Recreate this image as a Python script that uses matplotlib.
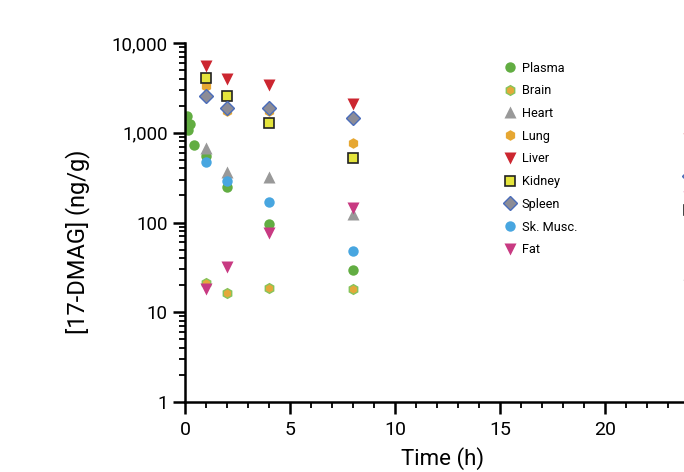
import numpy as np
import matplotlib.pyplot as plt
from matplotlib.ticker import FixedLocator, FuncFormatter, MultipleLocator

plt.rcParams['font.family'] = ['Roboto', 'DejaVu Sans']

# sampling times (h)
t_plasma = [0.08, 0.25, 0.12, 0.42, 1, 2, 4, 8, 24]
t_tissue = [1, 2, 4, 8, 24]

plasma = [1550, 1240, 1065, 736, 550, 250, 97, 29.5, 10]
brain = [21, 16.4, 18.6, 18.3, 5.4]
heart = [670, 362, 325, 124, 27]
lung = [3300, 1760, 1760, 760, np.nan]
liver = [5500, 3940, 3400, 2090, 845]
kidney = [4100, 2560, 1270, 520, 138]
spleen = [2550, 1900, 1900, 1450, 330]
skmusc = [470, 290, 169, 48, 10]
fat = [18, 32, 77, 144, 190]

fig = plt.figure(figsize=(6.84, 4.72), dpi=100)
ax = fig.add_axes([0.2705, 0.1483, 0.752, 0.7606])

ax.plot(t_plasma, plasma, 'o', color='#62ad42', ms=7.5, mec='none', label='Plasma')
ax.plot(t_tissue, brain, 'h', color='#e3a93a', ms=7, mec='#86c45a', mew=1, label='Brain')
ax.plot(t_tissue, heart, '^', color='#999999', ms=8.3, mec='none', label='Heart')
ax.plot(t_tissue, lung, 'h', color='#e6a732', ms=7.7, mec='none', label='Lung')
ax.plot(t_tissue, liver, 'v', color='#cc2630', ms=8.3, mec='none', label='Liver')
ax.plot(t_tissue, kidney, 's', color='#e4e43c', ms=7.2, mec='#222222', mew=1.2, label='Kidney')
ax.plot(t_tissue, spleen, 'D', color='#8c8c96', ms=7.2, mec='#4a6cba', mew=1, label='Spleen')
ax.plot(t_tissue, skmusc, 'o', color='#48a6e0', ms=7.5, mec='none', label='Sk. Musc.')
ax.plot(t_tissue, fat, 'v', color='#c83a82', ms=8.3, mec='none', label='Fat')

ax.set_yscale('log')
ax.set_ylim(1, 10000)
ax.set_xlim(0, 24.5)
ax.yaxis.set_major_locator(FixedLocator([1, 10, 100, 1000, 10000]))
ax.yaxis.set_major_formatter(FuncFormatter(lambda v, p: f'{v:,.0f}'))
ax.xaxis.set_major_locator(FixedLocator([0, 5, 10, 15, 20]))
ax.xaxis.set_minor_locator(MultipleLocator(1))

for s in ['top', 'right']:
    ax.spines[s].set_visible(False)
for s in ['left', 'bottom']:
    ax.spines[s].set_linewidth(1.8)
ax.tick_params(which='major', direction='out', length=8.5, width=1.8, labelsize=13.5, pad=4)
ax.tick_params(which='minor', direction='out', length=4.3, width=1.3)
ax.tick_params(axis='x', labelsize=14, pad=5)

ax.set_xlabel('Time (h)', fontsize=16, labelpad=6)
ax.set_ylabel('[17-DMAG] (ng/g)', fontsize=17)
ax.yaxis.set_label_coords(-0.185, 0.446)

ax.legend(loc='upper left', bbox_to_anchor=(0.718, 0.894), bbox_transform=fig.transFigure,
          frameon=False, fontsize=9.2, handletextpad=0.3, labelspacing=0.76,
          handlelength=1.2, numpoints=1)

fig.savefig('out.png', dpi=100)
